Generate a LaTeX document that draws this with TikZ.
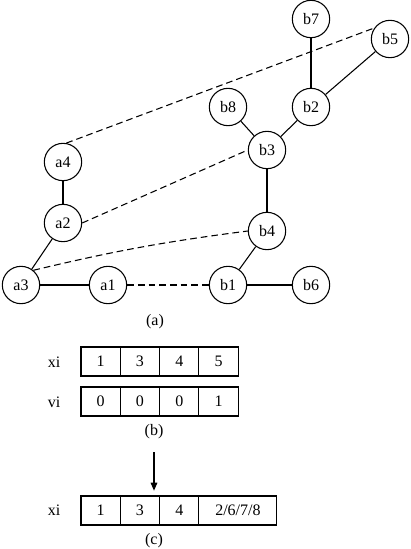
\documentclass[tikz,border=0pt]{standalone}
\usepackage{amsmath}
\usepackage{fontspec}
\setmainfont{Liberation Serif}
\usetikzlibrary{positioning, arrows.meta}

\begin{document}
\begin{tikzpicture}[x = 0.75pt, y = -0.75pt, line width = 0.8pt, font = \fontsize{12}{14}\selectfont,
  vert/.style = {circle, draw, minimum size = 28pt, inner sep = 0pt},
  cell/.style = {draw, minimum width = 29.5pt, minimum height = 21.75pt, inner sep = 0pt, outer sep = 0pt},
  link/.style = {dash pattern = on 5pt off 3pt}]
\useasboundingbox (0, 0) rectangle (410, 549);
\node[vert] (b7) at (311, 19) {b7};
\node[vert] (b5) at (390, 39) {b5};
\node[vert] (b8) at (228, 107) {b8};
\node[vert] (b2) at (311, 107) {b2};
\node[vert] (b3) at (267, 150) {b3};
\node[vert] (a4) at (63, 162) {a4};
\node[vert] (a2) at (63, 223) {a2};
\node[vert] (b4) at (267, 231) {b4};
\node[vert] (a3) at (21, 285) {a3};
\node[vert] (a1) at (108, 285) {a1};
\node[vert] (b1) at (228, 285) {b1};
\node[vert] (b6) at (311, 285) {b6};
\draw (a3) -- (a1);
\draw (a3) -- (a2);
\draw (a2) -- (a4);
\draw (b1) -- (b6);
\draw (b1) -- (b4);
\draw (b4) -- (b3);
\draw (b3) -- (b8);
\draw (b3) -- (b2);
\draw (b2) -- (b7);
\draw (b2) -- (b5);
\draw[link] (a4.80) -- (b5.145);
\draw[link] (a2.east) -- (b3.west);
\draw[link] (a3.50) to[bend left = 3] (b4.west);
\draw[link] (a1) -- (b1);
\node (la) at (155, 322) {(a)};

\node (xb) at (54, 362) {xi};
\node (vb) at (54, 402) {vi};
\foreach \v [count = \i] in {1, 3, 4, 5}
  \node[cell] (x\i) at (61.35 + 39.3*\i, 361.5) {\v};
\foreach \v [count = \i] in {0, 0, 0, 1}
  \node[cell] (v\i) at (61.35 + 39.3*\i, 401.5) {\v};
\node (lb) at (154, 432) {(b)};

\coordinate (from) at (154, 452);
\node (xc) at (54, 510) {xi};
\foreach \v [count = \i] in {1, 3, 4}
  \node[cell] (y\i) at (61.35 + 39.3*\i, 510.5) {\v};
\node[cell, minimum width = 58.5pt, right = 0pt of y3] (y4) {2/6/7/8};
\draw[-{Triangle[length = 6pt, width = 5pt]}] (from) -- (from |- y2.north) [shorten > = 4pt];
\node (lc) at (154, 541) {(c)};
\end{tikzpicture}
\end{document}
